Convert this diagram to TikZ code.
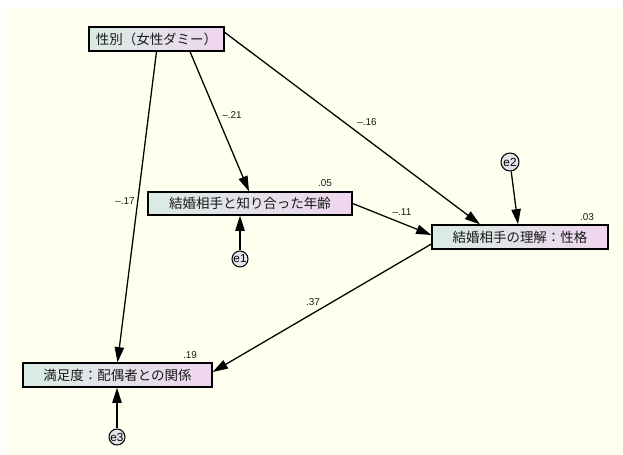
\documentclass[tikz,border=0pt]{standalone}
\usepackage{fontspec}
\newfontfamily\jp{Noto Sans CJK JP}
\newfontfamily\arial{Liberation Sans}
\usetikzlibrary{arrows.meta,calc}
\definecolor{bgcream}{HTML}{FFFFF0}
\definecolor{boxleft}{HTML}{D9ECE3}
\definecolor{boxright}{HTML}{EFD6EF}
\definecolor{errfill}{HTML}{E6E2EA}
\begin{document}
\begin{tikzpicture}[x=0.03cm,y=-0.03cm,
  var/.style={draw=black, line width=1.1pt, left color=boxleft, right color=boxright,
    inner sep=0pt, font=\jp\fontsize{11.5}{13}\selectfont, text=black!90},
  errc/.style={circle, draw=black, line width=0.9pt, fill=errfill, inner sep=0pt,
    minimum size=0.48cm, font=\arial\fontsize{10}{10}\selectfont},
  pth/.style={line width=1.1pt, -{Triangle[length=13pt,width=8pt]}},
  coef/.style={inner sep=0pt, font=\arial\fontsize{8.5}{9}\selectfont, text=black!90}]
\useasboundingbox (0,0) rectangle (623,455);
\fill[white] (0,0) rectangle (623,455);
\fill[bgcream] (7,8) rectangle (623,455);

\node[var, minimum width=4.05cm, minimum height=0.72cm] (A) at (156.5,39) {性別（女性ダミー）};
\node[var, minimum width=6.12cm, minimum height=0.69cm] (B) at (250,203.5) {結婚相手と知り合った年齢};
\node[var, minimum width=5.28cm, minimum height=0.72cm] (C) at (520,237) {結婚相手の理解：性格};
\node[var, minimum width=5.67cm, minimum height=0.72cm] (D) at (117.5,375) {満足度：配偶者との関係};

\node[errc] (e1) at (240,259) {e1};
\node[errc, minimum size=0.54cm] (e2) at (510,162) {e2};
\node[errc] (e3) at (117,437) {e3};

\draw[pth] (A.south) -- (D.north);
\draw[pth] ($(A.south)+(33.5,0)$) -- ($(B.north)+(-1,0)$);
\draw[pth] ($(A.north east)+(0,6)$) -- ($(C.north)+(-40,0)$);
\draw[pth] (B.east) -- ($(C.west)+(0,-2)$);
\draw[pth] ($(C.west)+(0,7)$) -- ($(D.east)+(0,-3)$);
\draw[pth] (e1) -- ($(B.south)+(-10,0)$);
\draw[pth] (e2) -- ($(C.north)+(-2,0)$);
\draw[pth] (e3) -- ($(D.south)+(-0.5,0)$);

\node[coef] (c1) at (125,201) {–.17};
\node[coef] (c2) at (232,115) {–.21};
\node[coef] (c3) at (367,122) {–.16};
\node[coef] (c4) at (402,212) {–.11};
\node[coef] (c5) at (313,302) {.37};
\node[coef] (r1) at (325,183) {.05};
\node[coef] (r2) at (587,217) {.03};
\node[coef] (r3) at (190,355) {.19};
\end{tikzpicture}
\end{document}
